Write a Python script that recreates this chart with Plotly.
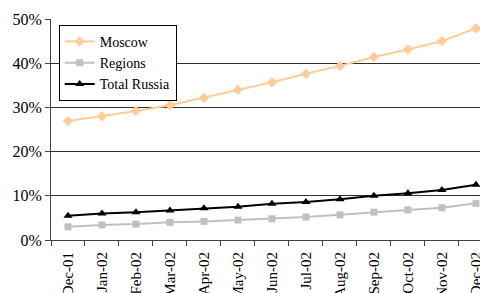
import plotly.graph_objects as go

months = ["Dec-01", "Jan-02", "Feb-02", "Mar-02", "Apr-02", "May-02", "Jun-02",
          "Jul-02", "Aug-02", "Sep-02", "Oct-02", "Nov-02", "Dec-02"]
moscow = [26.9, 28.0, 29.2, 30.5, 32.2, 34.0, 35.7, 37.6, 39.4, 41.4, 43.1, 45.0, 47.9]
regions = [3.0, 3.4, 3.6, 4.0, 4.2, 4.5, 4.8, 5.2, 5.7, 6.3, 6.8, 7.3, 8.3]
total_russia = [5.5, 6.0, 6.3, 6.7, 7.2, 7.55, 8.2, 8.6, 9.2, 10.0, 10.6, 11.3, 12.5]
y_ticks = [0, 10, 20, 30, 40, 50]

font = "Liberation Serif"

fig = go.Figure()
fig.add_trace(go.Scatter(x=months, y=moscow, name="Moscow", mode="lines+markers",
                         line=dict(color="#FFCC99", width=2),
                         marker=dict(symbol="diamond", size=8, color="#FFCC99")))
fig.add_trace(go.Scatter(x=months, y=regions, name="Regions", mode="lines+markers",
                         line=dict(color="#C0C0C0", width=2),
                         marker=dict(symbol="square", size=7, color="#C0C0C0")))
fig.add_trace(go.Scatter(x=months, y=total_russia, name="Total Russia", mode="lines+markers",
                         line=dict(color="#000000", width=2),
                         marker=dict(symbol="triangle-up", size=8, color="#000000")))

fig.update_layout(
    width=480, height=293,
    margin=dict(l=51, r=0, t=19, b=53),
    plot_bgcolor="white", paper_bgcolor="white",
    font=dict(family=font, size=15, color="black"),
    showlegend=True,
    legend=dict(x=0.018, y=0.973, xanchor="left", yanchor="top",
                bgcolor="white", bordercolor="black", borderwidth=1,
                font=dict(family=font, size=14, color="black"),
                tracegroupgap=0, itemwidth=30),
    xaxis=dict(type="category", range=[-0.5, 12.12], tickangle=-90,
               showline=True, linecolor="#404040", linewidth=1,
               ticks="outside", tickson="boundaries", ticklen=5, tickcolor="#404040",
               ticklabelstandoff=5,
               showgrid=False, automargin=False,
               tickfont=dict(family=font, size=15, color="black")),
    yaxis=dict(range=[0, 50], tickvals=y_ticks, ticktext=[f"{v}%" for v in y_ticks],
               showline=True, linecolor="#404040", linewidth=1,
               ticks="outside", ticklen=5, tickcolor="#404040",
               showgrid=True, gridcolor="#303030", gridwidth=1,
               zeroline=False, automargin=False,
               tickfont=dict(family=font, size=16, color="black")),
)

fig.write_html("out.html", config={"displayModeBar": False},
               post_script="document.body.style.margin='0';document.body.style.padding='0';")
